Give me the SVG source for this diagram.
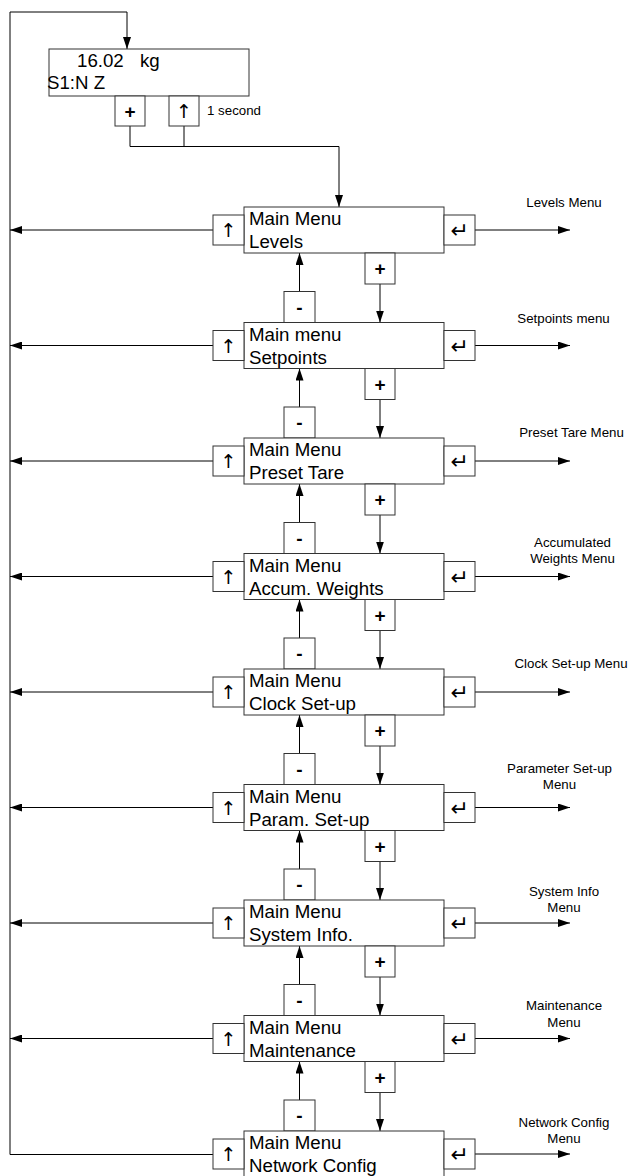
<svg xmlns="http://www.w3.org/2000/svg" width="630" height="1176" viewBox="0 0 630 1176">
<defs>
<style>
.box{fill:#fff;stroke:#333;stroke-width:1}
.btn{fill:#fff;stroke:#333;stroke-width:1}
.ln{fill:none;stroke:#000;stroke-width:1}
.main{font-family:"Liberation Sans",Arial,sans-serif;font-size:18.7px;fill:#000}
.lbl{font-family:"Liberation Sans",Arial,sans-serif;font-size:13.3px;fill:#000;text-anchor:middle}
.sym{font-family:"DejaVu Sans",sans-serif;font-size:19px;fill:#000;text-anchor:middle}
.ret{font-family:"DejaVu Sans",sans-serif;font-size:22px;fill:#000;text-anchor:middle}
.pm{font-family:"Liberation Sans",Arial,sans-serif;font-size:19px;font-weight:bold;fill:#000;text-anchor:middle}
</style>
<marker id="ah" markerUnits="userSpaceOnUse" markerWidth="12" markerHeight="8" refX="12" refY="4" orient="auto" viewBox="0 0 12 8">
<path d="M0,0 L12,4 L0,8 z" fill="#000"/>
</marker>
</defs>
<rect width="630" height="1176" fill="#fff"/>

<g id="connectors">
<path class="ln" d="M213,1154.5 H10 V12 H127 V49" marker-end="url(#ah)"/>
<path class="ln" d="M130,126 V146.5 H339 V207" marker-end="url(#ah)"/>
<path class="ln" d="M184,126 V146.5"/>
<g id="left-arrows">
<line class="ln" x1="213" y1="230" x2="10" y2="230" marker-end="url(#ah)"/>
<line class="ln" x1="213" y1="345.5" x2="10" y2="345.5" marker-end="url(#ah)"/>
<line class="ln" x1="213" y1="461" x2="10" y2="461" marker-end="url(#ah)"/>
<line class="ln" x1="213" y1="576.5" x2="10" y2="576.5" marker-end="url(#ah)"/>
<line class="ln" x1="213" y1="692" x2="10" y2="692" marker-end="url(#ah)"/>
<line class="ln" x1="213" y1="807.5" x2="10" y2="807.5" marker-end="url(#ah)"/>
<line class="ln" x1="213" y1="923" x2="10" y2="923" marker-end="url(#ah)"/>
<line class="ln" x1="213" y1="1038.5" x2="10" y2="1038.5" marker-end="url(#ah)"/>
</g>
<g id="right-arrows">
<line class="ln" x1="475" y1="230" x2="570" y2="230" marker-end="url(#ah)"/>
<line class="ln" x1="475" y1="345.5" x2="570" y2="345.5" marker-end="url(#ah)"/>
<line class="ln" x1="475" y1="461" x2="570" y2="461" marker-end="url(#ah)"/>
<line class="ln" x1="475" y1="576.5" x2="570" y2="576.5" marker-end="url(#ah)"/>
<line class="ln" x1="475" y1="692" x2="570" y2="692" marker-end="url(#ah)"/>
<line class="ln" x1="475" y1="807.5" x2="570" y2="807.5" marker-end="url(#ah)"/>
<line class="ln" x1="475" y1="923" x2="570" y2="923" marker-end="url(#ah)"/>
<line class="ln" x1="475" y1="1038.5" x2="570" y2="1038.5" marker-end="url(#ah)"/>
<line class="ln" x1="475" y1="1154" x2="570" y2="1154" marker-end="url(#ah)"/>
</g>
<g id="down-arrows">
<line class="ln" x1="380" y1="284" x2="380" y2="322.5" marker-end="url(#ah)"/>
<line class="ln" x1="380" y1="399.5" x2="380" y2="438" marker-end="url(#ah)"/>
<line class="ln" x1="380" y1="515" x2="380" y2="553.5" marker-end="url(#ah)"/>
<line class="ln" x1="380" y1="630.5" x2="380" y2="669" marker-end="url(#ah)"/>
<line class="ln" x1="380" y1="746" x2="380" y2="784.5" marker-end="url(#ah)"/>
<line class="ln" x1="380" y1="861.5" x2="380" y2="900" marker-end="url(#ah)"/>
<line class="ln" x1="380" y1="977" x2="380" y2="1015.5" marker-end="url(#ah)"/>
<line class="ln" x1="380" y1="1092.5" x2="380" y2="1131" marker-end="url(#ah)"/>
</g>
<g id="up-arrows">
<line class="ln" x1="299.5" y1="291.5" x2="299.5" y2="253" marker-end="url(#ah)"/>
<line class="ln" x1="299.5" y1="407" x2="299.5" y2="368.5" marker-end="url(#ah)"/>
<line class="ln" x1="299.5" y1="522.5" x2="299.5" y2="484" marker-end="url(#ah)"/>
<line class="ln" x1="299.5" y1="638" x2="299.5" y2="599.5" marker-end="url(#ah)"/>
<line class="ln" x1="299.5" y1="753.5" x2="299.5" y2="715" marker-end="url(#ah)"/>
<line class="ln" x1="299.5" y1="869" x2="299.5" y2="830.5" marker-end="url(#ah)"/>
<line class="ln" x1="299.5" y1="984.5" x2="299.5" y2="946" marker-end="url(#ah)"/>
<line class="ln" x1="299.5" y1="1100" x2="299.5" y2="1061.5" marker-end="url(#ah)"/>
</g>
<g id="labels">
<text class="lbl" x="564" y="207">Levels Menu</text>
<text class="lbl" x="563.5" y="323">Setpoints menu</text>
<text class="lbl" x="571.5" y="437">Preset Tare Menu</text>
<text class="lbl" x="572.5" y="547">Accumulated</text>
<text class="lbl" x="572.5" y="563">Weights Menu</text>
<text class="lbl" x="571" y="668">Clock Set-up Menu</text>
<text class="lbl" x="559.5" y="773">Parameter Set-up</text>
<text class="lbl" x="559.5" y="789">Menu</text>
<text class="lbl" x="564" y="896">System Info</text>
<text class="lbl" x="564" y="912">Menu</text>
<text class="lbl" x="564" y="1010">Maintenance</text>
<text class="lbl" x="564" y="1027">Menu</text>
<text class="lbl" x="564" y="1127">Network Config</text>
<text class="lbl" x="564" y="1143">Menu</text>
</g>
</g>

<g id="display">
<rect class="box" x="49" y="49" width="200" height="47"/>
<text class="main" y="67"><tspan x="77">16.02</tspan><tspan x="140">kg</tspan></text>
<text class="main" x="47" y="89">S1:N Z</text>
<rect class="btn" x="115" y="96" width="30" height="30"/>
<text class="pm" x="130" y="118">+</text>
<rect class="btn" x="169" y="96" width="30" height="30"/>
<text class="sym" x="184" y="118">↑</text>
<text class="lbl" x="207" y="115" style="text-anchor:start">1 second</text>
</g>

<g id="node-levels" transform="translate(0,207)">
<rect class="box" x="244" y="0" width="200" height="46"/>
<rect class="btn" x="213" y="8" width="31" height="30"/><text class="sym" x="228.5" y="30">↑</text>
<rect class="btn" x="444" y="8" width="31" height="30"/><text class="ret" x="459.5" y="31">↵</text>
<text class="main" x="249" y="18">Main Menu</text><text class="main" x="249" y="41">Levels</text>
<rect class="btn" x="365" y="46" width="30" height="31"/><text class="pm" x="380" y="68">+</text>
</g>

<g id="node-setpoints" transform="translate(0,322.5)">
<rect class="btn" x="284" y="-31" width="31" height="31"/><text class="pm" x="299.5" y="-9">-</text>
<rect class="box" x="244" y="0" width="200" height="46"/>
<rect class="btn" x="213" y="8" width="31" height="30"/><text class="sym" x="228.5" y="30">↑</text>
<rect class="btn" x="444" y="8" width="31" height="30"/><text class="ret" x="459.5" y="31">↵</text>
<text class="main" x="249" y="18">Main menu</text><text class="main" x="249" y="41">Setpoints</text>
<rect class="btn" x="365" y="46" width="30" height="31"/><text class="pm" x="380" y="68">+</text>
</g>

<g id="node-preset-tare" transform="translate(0,438)">
<rect class="btn" x="284" y="-31" width="31" height="31"/><text class="pm" x="299.5" y="-9">-</text>
<rect class="box" x="244" y="0" width="200" height="46"/>
<rect class="btn" x="213" y="8" width="31" height="30"/><text class="sym" x="228.5" y="30">↑</text>
<rect class="btn" x="444" y="8" width="31" height="30"/><text class="ret" x="459.5" y="31">↵</text>
<text class="main" x="249" y="18">Main Menu</text><text class="main" x="249" y="41">Preset Tare</text>
<rect class="btn" x="365" y="46" width="30" height="31"/><text class="pm" x="380" y="68">+</text>
</g>

<g id="node-accum" transform="translate(0,553.5)">
<rect class="btn" x="284" y="-31" width="31" height="31"/><text class="pm" x="299.5" y="-9">-</text>
<rect class="box" x="244" y="0" width="200" height="46"/>
<rect class="btn" x="213" y="8" width="31" height="30"/><text class="sym" x="228.5" y="30">↑</text>
<rect class="btn" x="444" y="8" width="31" height="30"/><text class="ret" x="459.5" y="31">↵</text>
<text class="main" x="249" y="18">Main Menu</text><text class="main" x="249" y="41">Accum. Weights</text>
<rect class="btn" x="365" y="46" width="30" height="31"/><text class="pm" x="380" y="68">+</text>
</g>

<g id="node-clock" transform="translate(0,669)">
<rect class="btn" x="284" y="-31" width="31" height="31"/><text class="pm" x="299.5" y="-9">-</text>
<rect class="box" x="244" y="0" width="200" height="46"/>
<rect class="btn" x="213" y="8" width="31" height="30"/><text class="sym" x="228.5" y="30">↑</text>
<rect class="btn" x="444" y="8" width="31" height="30"/><text class="ret" x="459.5" y="31">↵</text>
<text class="main" x="249" y="18">Main Menu</text><text class="main" x="249" y="41">Clock Set-up</text>
<rect class="btn" x="365" y="46" width="30" height="31"/><text class="pm" x="380" y="68">+</text>
</g>

<g id="node-param" transform="translate(0,784.5)">
<rect class="btn" x="284" y="-31" width="31" height="31"/><text class="pm" x="299.5" y="-9">-</text>
<rect class="box" x="244" y="0" width="200" height="46"/>
<rect class="btn" x="213" y="8" width="31" height="30"/><text class="sym" x="228.5" y="30">↑</text>
<rect class="btn" x="444" y="8" width="31" height="30"/><text class="ret" x="459.5" y="31">↵</text>
<text class="main" x="249" y="18">Main Menu</text><text class="main" x="249" y="41">Param. Set-up</text>
<rect class="btn" x="365" y="46" width="30" height="31"/><text class="pm" x="380" y="68">+</text>
</g>

<g id="node-system" transform="translate(0,900)">
<rect class="btn" x="284" y="-31" width="31" height="31"/><text class="pm" x="299.5" y="-9">-</text>
<rect class="box" x="244" y="0" width="200" height="46"/>
<rect class="btn" x="213" y="8" width="31" height="30"/><text class="sym" x="228.5" y="30">↑</text>
<rect class="btn" x="444" y="8" width="31" height="30"/><text class="ret" x="459.5" y="31">↵</text>
<text class="main" x="249" y="18">Main Menu</text><text class="main" x="249" y="41">System Info.</text>
<rect class="btn" x="365" y="46" width="30" height="31"/><text class="pm" x="380" y="68">+</text>
</g>

<g id="node-maintenance" transform="translate(0,1015.5)">
<rect class="btn" x="284" y="-31" width="31" height="31"/><text class="pm" x="299.5" y="-9">-</text>
<rect class="box" x="244" y="0" width="200" height="46"/>
<rect class="btn" x="213" y="8" width="31" height="30"/><text class="sym" x="228.5" y="30">↑</text>
<rect class="btn" x="444" y="8" width="31" height="30"/><text class="ret" x="459.5" y="31">↵</text>
<text class="main" x="249" y="18">Main Menu</text><text class="main" x="249" y="41">Maintenance</text>
<rect class="btn" x="365" y="46" width="30" height="31"/><text class="pm" x="380" y="68">+</text>
</g>

<g id="node-network" transform="translate(0,1131)">
<rect class="btn" x="284" y="-31" width="31" height="31"/><text class="pm" x="299.5" y="-9">-</text>
<rect class="box" x="244" y="0" width="200" height="46"/>
<rect class="btn" x="213" y="8" width="31" height="30"/><text class="sym" x="228.5" y="30">↑</text>
<rect class="btn" x="444" y="8" width="31" height="30"/><text class="ret" x="459.5" y="31">↵</text>
<text class="main" x="249" y="18">Main Menu</text><text class="main" x="249" y="41">Network Config</text>
</g>
</svg>
